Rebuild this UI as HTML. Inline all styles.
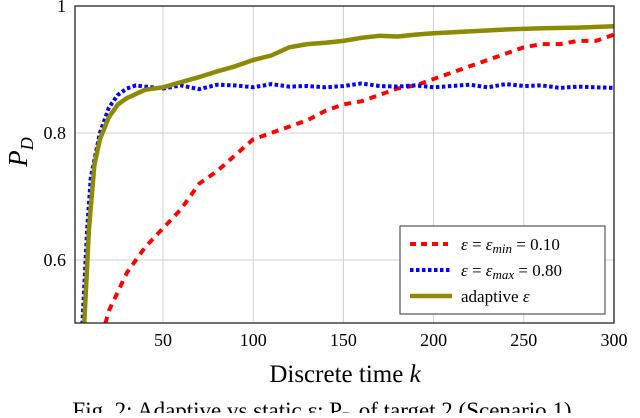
<!DOCTYPE html>
<html><head><meta charset="utf-8"><style>
body{margin:0;background:#fff;width:640px;height:413px;overflow:hidden}
svg text{font-family:"Liberation Serif",serif;fill:#000}
</style></head><body>
<svg width="640" height="413" xmlns="http://www.w3.org/2000/svg">
<defs><clipPath id="clip"><rect x="75" y="6" width="539" height="317"/></clipPath></defs>
<g id="grid"></g>
<g id="ticks"></g>
<g id="series" clip-path="url(#clip)"></g>
<rect x="75" y="6" width="539" height="317" fill="none" stroke="#222" stroke-width="1.3"/>
<text x="27" y="152" font-size="27" font-style="italic" text-anchor="middle" transform="rotate(-90 27 152)">P<tspan font-size="18" dy="6">D</tspan></text>
<text x="345" y="382" font-size="25" text-anchor="middle">Discrete time <tspan font-style="italic">k</tspan></text>
<text x="322" y="418" font-size="23" text-anchor="middle">Fig. 2: Adaptive vs static ε: P<tspan font-size="15" dy="4">D</tspan><tspan dy="-4"> of target 2 (Scenario 1)</tspan></text>
<g>
<rect x="400" y="226" width="205" height="88" fill="#fff" stroke="#333" stroke-width="1"/>
<line x1="410" y1="244" x2="448" y2="244" stroke="#f00" stroke-width="4" stroke-dasharray="6,5"/>
<text x="461" y="250" font-size="17"><tspan font-style="italic">ε</tspan> = <tspan font-style="italic">ε<tspan font-size="13" dy="3">min</tspan></tspan><tspan dy="-3"> = 0.10</tspan></text>
<line x1="410" y1="270" x2="452" y2="270" stroke="#00f" stroke-width="4" stroke-dasharray="3.5,2.5"/>
<text x="461" y="276" font-size="17"><tspan font-style="italic">ε</tspan> = <tspan font-style="italic">ε<tspan font-size="13" dy="3">max</tspan></tspan><tspan dy="-3"> = 0.80</tspan></text>
<line x1="410" y1="296" x2="452" y2="296" stroke="#8b8a00" stroke-width="4.5"/>
<text x="461" y="302" font-size="17">adaptive <tspan font-style="italic">ε</tspan></text>
</g>
</svg>
<script>
const xTicks=[50,100,150,200,250,300];
const yTicks=[0.6,0.8,1];
const yTickLabels=["0.6","0.8","1"];
const redK=[18,20,30,40,50,60,70,80,90,100,110,120,130,140,150,160,170,180,190,200,210,220,230,240,250,260,270,280,290,300];
const redV=[0.5,0.52,0.58,0.62,0.65,0.68,0.72,0.74,0.765,0.79,0.80,0.81,0.82,0.835,0.845,0.85,0.86,0.87,0.875,0.885,0.895,0.905,0.915,0.925,0.935,0.94,0.94,0.945,0.945,0.955];
const blueK=[5,8,10,15,20,25,30,35,40,50,60,70,80,90,100,110,120,130,140,150,160,170,180,190,200,210,220,230,240,250,260,270,280,290,300];
const blueV=[0.48,0.65,0.73,0.8,0.84,0.86,0.87,0.875,0.873,0.87,0.875,0.869,0.876,0.875,0.872,0.877,0.873,0.874,0.872,0.874,0.878,0.874,0.873,0.875,0.872,0.874,0.876,0.872,0.877,0.874,0.875,0.871,0.873,0.872,0.871];
const oliveK=[6,9,12,15,20,25,30,40,50,60,70,80,90,100,110,120,130,140,150,160,170,180,190,200,220,240,260,280,300];
const oliveV=[0.48,0.65,0.75,0.79,0.825,0.845,0.855,0.868,0.872,0.88,0.888,0.897,0.905,0.915,0.922,0.935,0.94,0.942,0.945,0.95,0.953,0.952,0.955,0.957,0.96,0.963,0.965,0.966,0.968];
const X=k=>72.8+1.804*k, Y=v=>6+(1-v)*635;
const NS="http://www.w3.org/2000/svg";
function mk(t,a,p){const e=document.createElementNS(NS,t);for(const k in a)e.setAttribute(k,a[k]);p.appendChild(e);return e;}
const grid=document.getElementById('grid'),ticks=document.getElementById('ticks'),ser=document.getElementById('series');
xTicks.forEach(t=>{const l=mk('line',{x1:X(t),x2:X(t),y1:6,y2:323,stroke:'#d0d0d0','stroke-width':1},grid);


const s=mk('text',{x:X(t),y:346,'font-size':18,'text-anchor':'middle'},ticks);s.textContent=t;

});
yTicks.forEach((t,i)=>{const l=mk('line',{x1:75,x2:614,y1:Y(t),y2:Y(t),stroke:'#d0d0d0','stroke-width':1},grid);


const s=mk('text',{x:66,y:Y(t)+6,'font-size':18,'text-anchor':'end'},ticks);s.textContent=yTickLabels[i];

});
function line(ks,vs,st,name){const d=ks.map((k,i)=>(i?'L':'M')+X(k).toFixed(1)+','+Y(vs[i]).toFixed(1)).join('');
const p=mk('path',Object.assign({d:d,fill:'none','stroke-linejoin':'round'},st),ser);

}
line(redK,redV,{stroke:'#f00','stroke-width':4,'stroke-dasharray':'7,6'},'series-eps-min');
line(blueK,blueV,{stroke:'#00f','stroke-width':4,'stroke-dasharray':'3.5,2.5'},'series-eps-max');
line(oliveK,oliveV,{stroke:'#8b8a00','stroke-width':4.5},'series-adaptive');
</script>
</body></html>
